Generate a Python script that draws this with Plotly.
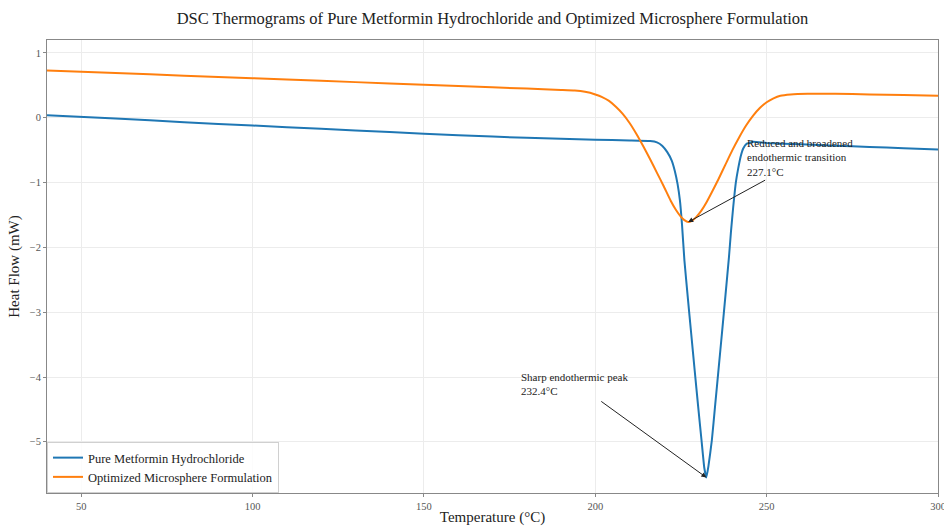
import plotly.graph_objects as go

# ---- Data ----
temp_pure = [40, 60, 80, 100, 120, 140, 160, 180, 200, 210, 216, 218, 219.5, 221, 222.3,
             223.2, 224, 224.7, 225.3, 226, 227, 228, 229, 230, 231, 231.8, 232.4, 233,
             234, 235, 236, 237, 238, 239, 239.6, 240.2, 241, 241.7, 242.4, 243.2, 244.2,
             246, 250, 260, 270, 280, 290, 300]
heat_pure = [0.04, -0.01, -0.07, -0.12, -0.17, -0.22, -0.27, -0.31, -0.34, -0.35, -0.36,
             -0.38, -0.43, -0.53, -0.66, -0.82, -1.02, -1.28, -1.65, -2.2, -2.78, -3.34,
             -3.9, -4.45, -4.98, -5.4, -5.55, -5.38, -4.98, -4.42, -3.86, -3.3, -2.73,
             -2.15, -1.75, -1.4, -1.0, -0.78, -0.6, -0.47, -0.4, -0.37, -0.39, -0.41,
             -0.43, -0.45, -0.47, -0.49]

temp_micro = [40, 60, 80, 100, 120, 140, 160, 180, 190, 194, 197, 200, 202, 204, 206, 208,
              210, 212, 214, 216, 218, 220, 222, 223.5, 225, 226, 227.1, 228.2, 229.5, 231,
              232.5, 234, 236, 238, 240, 242, 244, 246, 248, 250, 252, 254, 257, 262, 270,
              280, 290, 300]
heat_micro = [0.73, 0.69, 0.65, 0.61, 0.57, 0.53, 0.49, 0.45, 0.43, 0.42, 0.40, 0.36, 0.32,
              0.26, 0.17, 0.06, -0.08, -0.25, -0.44, -0.64, -0.85, -1.06, -1.28, -1.42,
              -1.53, -1.58, -1.61, -1.59, -1.53, -1.43, -1.30, -1.15, -0.94, -0.72, -0.50,
              -0.30, -0.12, 0.03, 0.15, 0.24, 0.30, 0.34, 0.36, 0.37, 0.37, 0.36, 0.35, 0.34]

series_names = ["Pure Metformin Hydrochloride", "Optimized Microsphere Formulation"]
x_ticks = [50, 100, 150, 200, 250, 300]
y_ticks = [-5, -4, -3, -2, -1, 0, 1]

peak_pure = (232.4, -5.55)
peak_micro = (227.1, -1.61)
label_pure = "Sharp endothermic peak<br>232.4°C"
label_micro = "Reduced and broadened<br>endothermic transition<br>227.1°C"

FONT = "Liberation Serif"

fig = go.Figure()
fig.add_trace(go.Scatter(x=temp_pure, y=heat_pure, mode="lines", name=series_names[0],
                         line=dict(color="#1f77b4", width=2, shape="spline", smoothing=0.4)))
fig.add_trace(go.Scatter(x=temp_micro, y=heat_micro, mode="lines", name=series_names[1],
                         line=dict(color="#ff7f0e", width=2, shape="spline", smoothing=0.5)))

# arrows
fig.add_annotation(x=peak_pure[0], y=peak_pure[1], ax=201.3, ay=-4.36, axref="x", ayref="y",
                   xref="x", yref="y", text="", showarrow=True, arrowhead=2, arrowsize=1,
                   arrowwidth=1, arrowcolor="#222")
fig.add_annotation(x=peak_micro[0], y=peak_micro[1], ax=250, ay=-0.95, axref="x", ayref="y",
                   xref="x", yref="y", text="", showarrow=True, arrowhead=2, arrowsize=1,
                   arrowwidth=1, arrowcolor="#222")
# texts
fig.add_annotation(x=177.7, y=-3.88, xref="x", yref="y", text=label_pure, showarrow=False,
                   xanchor="left", yanchor="top", align="left",
                   font=dict(family=FONT, size=11, color="#222"))
fig.add_annotation(x=243.6, y=-0.27, xref="x", yref="y", text=label_micro, showarrow=False,
                   xanchor="left", yanchor="top", align="left",
                   font=dict(family=FONT, size=11, color="#222"))

fig.update_layout(
    width=944, height=526,
    margin=dict(l=47, r=6, t=40, b=33, autoexpand=False),
    paper_bgcolor="white", plot_bgcolor="white",
    font=dict(family=FONT, color="#222"),
    title=dict(text="DSC Thermograms of Pure Metformin Hydrochloride and Optimized Microsphere Formulation",
               x=0.5, xref="paper", xanchor="center", y=0.966, yref="container", yanchor="middle",
               font=dict(family=FONT, size=16.5, color="#222")),
    legend=dict(x=0.0, y=0.0, xanchor="left", yanchor="bottom",
                bgcolor="rgba(255,255,255,0.85)", bordercolor="#d0d0d0", borderwidth=1,
                font=dict(family=FONT, size=12.5, color="#222"), tracegroupgap=2),
    showlegend=True,
)
fig.update_xaxes(range=[40, 300], tickvals=x_ticks, showgrid=True, gridcolor="#ececec",
                 gridwidth=1, zeroline=False, showline=True, linecolor="#888", linewidth=1,
                 mirror=True, ticks="outside", ticklen=3, tickcolor="#888",
                 ticklabeloverflow="allow", automargin=False,
                 tickfont=dict(family=FONT, size=10.5, color="#555"),
                 title=dict(text="Temperature (°C)", font=dict(family=FONT, size=15, color="#222"),
                            standoff=4))
fig.update_yaxes(range=[-5.79, 1.2], tickvals=y_ticks, showgrid=True, gridcolor="#ececec",
                 gridwidth=1, zeroline=False, showline=True, linecolor="#888", linewidth=1,
                 mirror=True, ticks="outside", ticklen=3, tickcolor="#888",
                 automargin=False,
                 tickfont=dict(family=FONT, size=10.5, color="#555"),
                 title=dict(text="Heat Flow (mW)", font=dict(family=FONT, size=15, color="#222"),
                            standoff=6))

fig.write_html("out.html")
